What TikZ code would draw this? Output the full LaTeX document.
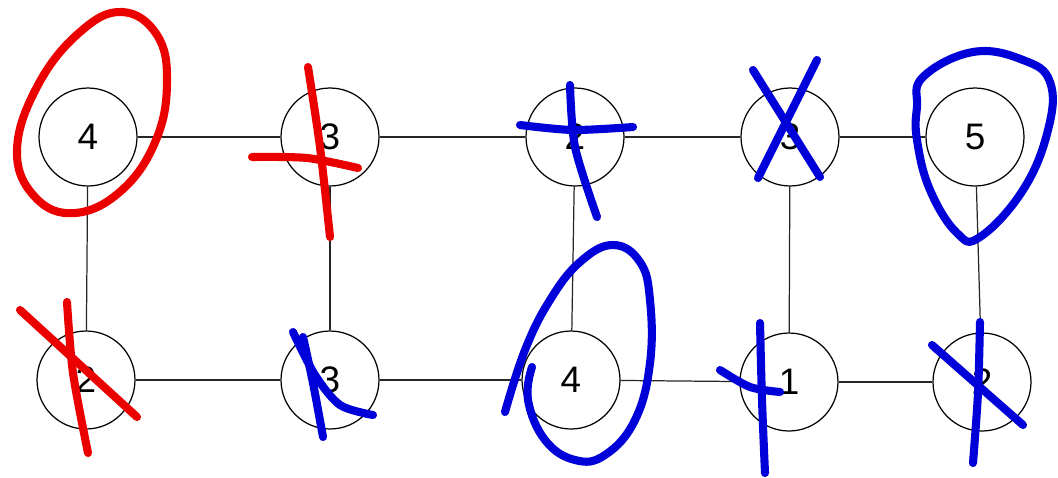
\documentclass[tikz,border=0pt]{standalone}
\usepackage{fontspec}
\setmainfont{Liberation Sans}
\usetikzlibrary{positioning}

\begin{document}
\begin{tikzpicture}[x=0.02cm, y=-0.02cm,
    vtx/.style={circle, draw, line width=0.7pt, fill=white, minimum size=1.96cm, inner sep=0pt, font=\fontsize{21}{25}\selectfont},
    edge/.style={draw=black!85, line width=0.7pt},
    redpen/.style={draw=red!92!black, line width=4.6pt, line cap=round, line join=round},
    bluepen/.style={draw=blue!85!black, line width=4.6pt, line cap=round, line join=round}]
      \useasboundingbox (0,0) rectangle (1058,477);

      % Nodes (top row)
      \node[vtx] (t1) at (88,137) {4};
      \node[vtx] (t2) at (330,137) {3};
      \node[vtx] (t3) at (575,137) {2};
      \node[vtx] (t4) at (790,137) {3};
      \node[vtx] (t5) at (975,137) {5};
      % Nodes (bottom row)
      \node[vtx] (b1) at (86,380) {2};
      \node[vtx] (b2) at (330,380) {3};
      \node[vtx] (b3) at (571,380) {4};
      \node[vtx] (b4) at (789,382) {1};
      \node[vtx] (b5) at (982,382) {2};

      % Edges
      \draw[edge] (t1) -- (t2);
      \draw[edge] (t2) -- (t3);
      \draw[edge] (t3) -- (t4);
      \draw[edge] (t4) -- (t5);
      \draw[edge] (b1) -- (b2);
      \draw[edge] (b2) -- (b3);
      \draw[edge] (b3) -- (b4);
      \draw[edge] (b4) -- (b5);
      \draw[edge] (t1) -- (b1);
      \draw[edge] (t2) -- (b2);
      \draw[edge] (t3) -- (b3);
      \draw[edge] (t4) -- (b4);
      \draw[edge] (t5) -- (b5);

      % Red marks
      \draw[redpen] plot[smooth cycle, tension=0.7] coordinates {(122,12) (157,35) (167,82) (156,140) (122,190) (75,213) (35,197) (17,150) (38,85) (80,32)};
      \draw[redpen] plot[smooth] coordinates {(308,67) (320,147) (330,237)};
      \draw[redpen] plot[smooth] coordinates {(252,157) (307,158) (358,168)};
      \draw[redpen] (20,310) -- (137,417);
      \draw[redpen] plot[smooth] coordinates {(67,302) (73,373) (88,453)};

      % Blue marks
      \draw[bluepen] plot[smooth, tension=0.7] coordinates {(505,412) (525,350) (550,300) (580,262) (613,245) (640,262) (650,300) (650,363) (635,420) (605,455) (575,460) (545,440) (528,400) (532,367)};
      \draw[bluepen] plot[smooth cycle, tension=0.7] coordinates {(923,77) (973,52) (1023,60) (1050,82) (1048,130) (1023,190) (980,237) (957,233) (930,190) (917,140) (917,107)};
      \draw[bluepen] plot[smooth] coordinates {(520,125) (573,130) (633,127)};
      \draw[bluepen] plot[smooth] coordinates {(570,85) (575,147) (597,217)};
      \draw[bluepen] (753,70) -- (820,177);
      \draw[bluepen] (817,60) -- (758,178);
      \draw[bluepen] plot[smooth] coordinates {(293,332) (315,375) (340,405) (373,415)};
      \draw[bluepen] plot[smooth] coordinates {(303,337) (313,383) (323,437)};
      \draw[bluepen] plot[smooth] coordinates {(760,323) (762,400) (765,473)};
      \draw[bluepen] plot[smooth] coordinates {(720,370) (750,387) (780,392)};
      \draw[bluepen] (932,345) -- (1023,425);
      \draw[bluepen] plot[smooth] coordinates {(980,322) (978,393) (973,463)};
    \end{tikzpicture}
\end{document}
